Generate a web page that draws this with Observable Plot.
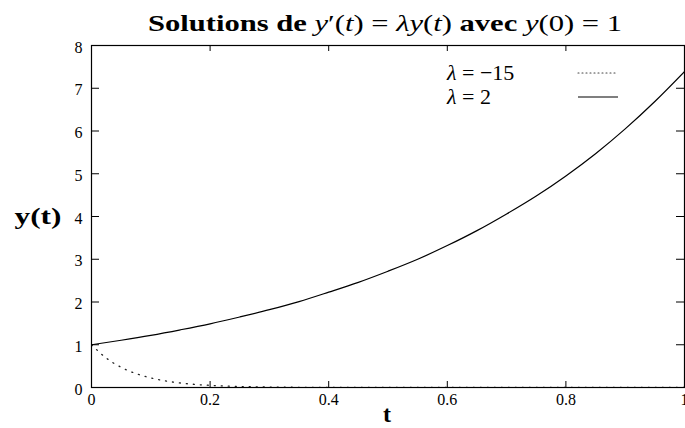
<!DOCTYPE html>
<html><head><meta charset="utf-8">
<script src="https://cdn.jsdelivr.net/npm/d3@7"></script>
<script src="https://cdn.jsdelivr.net/npm/@observablehq/plot@0.6"></script>
<style>body{margin:0;background:#fff}</style></head>
<body><div id="chart"></div>
<script>
// values
const tGrow = [0,0.05,0.1,0.15,0.2,0.25,0.3,0.35,0.4,0.45,0.5,0.55,0.6,0.65,0.7,0.75,0.8,0.85,0.9,0.95,1];
const yGrow = [1,1.105,1.22,1.35,1.49,1.65,1.82,2.01,2.23,2.46,2.72,3.0,3.32,3.67,4.06,4.48,4.95,5.47,6.05,6.69,7.39];
const tDecay = [0,0.025,0.05,0.075,0.1,0.125,0.15,0.175,0.2,0.25,0.3,0.4,0.5,0.6,0.7,0.8,0.9,1];
const yDecay = [1,0.687,0.472,0.325,0.223,0.153,0.105,0.072,0.05,0.024,0.011,0.0025,0.0006,0,0,0,0,0];
const xTicks = [0,0.2,0.4,0.6,0.8,1];
const xTickLabels = ["0","0.2","0.4","0.6","0.8","1"];
const yTicks = [0,1,2,3,4,5,6,7,8];
const yTickLabels = ["0","1","2","3","4","5","6","7","8"];
const legendLabels = ["−15","2"];

const grow = tGrow.map((t,i)=>({t, y:yGrow[i]}));
const decay = tDecay.map((t,i)=>({t, y:yDecay[i]}));

const W = 685, H = 428, mL = 91, mR = 1, mT = 45, mB = 41;
const fw = W - mL - mR, fh = H - mT - mB;
const serif = "'Liberation Serif', 'DejaVu Serif', serif";
const plot = Plot.plot({
  width:W, height:H,
  marginLeft:mL, marginRight:mR, marginTop:mT, marginBottom:mB,
  style:{fontFamily:serif, fontSize:"16px", background:"#fff", color:"#000"},
  x:{domain:[0,1]},
  y:{domain:[0,8]},
  marks:[
    Plot.line(decay,{x:"t", y:"y", stroke:"#222", strokeWidth:1.3, strokeDasharray:"1,6", strokeLinecap:"round", curve:"monotone-x", clip:true}),
    Plot.line(grow,{x:"t", y:"y", stroke:"#000", strokeWidth:1.2, curve:"monotone-x", clip:true}),
    // inward ticks on all four sides
    Plot.tickX(xTicks,{x:d=>d, insetTop:fh-6, stroke:"#000"}),
    Plot.tickX(xTicks,{x:d=>d, insetBottom:fh-6, stroke:"#000"}),
    Plot.tickY(yTicks,{y:d=>d, insetRight:fw-8, stroke:"#000"}),
    Plot.tickY(yTicks,{y:d=>d, insetLeft:fw-8, stroke:"#000"}),
    Plot.frame({stroke:"#000", strokeWidth:1.2}),
    Plot.axisX(xTicks,{anchor:"bottom", tickSize:0, tickPadding:6, tickFormat:(d,i)=>xTickLabels[i], label:null}),
    Plot.axisY(yTicks,{anchor:"left", tickSize:0, tickPadding:9, dy:2, tickFormat:(d,i)=>yTickLabels[i], label:null})
  ]
});
document.getElementById("chart").appendChild(plot);

const svg = d3.select(plot);
// title
const title = svg.append("text").attr("x",385).attr("y",31).attr("text-anchor","middle")
  .attr("textLength",474).attr("lengthAdjust","spacingAndGlyphs")
  .style("font-family",serif).style("font-size","24px");
title.append("tspan").attr("font-weight","bold").text("Solutions de ");
title.append("tspan").attr("font-style","italic").text("y");
title.append("tspan").text("′(");
title.append("tspan").attr("font-style","italic").text("t");
title.append("tspan").text(") = ");
title.append("tspan").attr("font-style","italic").text("λy");
title.append("tspan").text("(");
title.append("tspan").attr("font-style","italic").text("t");
title.append("tspan").text(") ");
title.append("tspan").attr("font-weight","bold").text("avec ");
title.append("tspan").attr("font-style","italic").text("y");
title.append("tspan").text("(0) = 1");

// axis labels
svg.append("text").attr("x",38).attr("y",224).attr("text-anchor","middle")
  .attr("textLength",47).attr("lengthAdjust","spacingAndGlyphs")
  .style("font-family",serif).style("font-size","24px").attr("font-weight","bold").text("y(t)");
svg.append("text").attr("x",387).attr("y",422).attr("text-anchor","middle")
  .style("font-family",serif).style("font-size","24px").attr("font-weight","bold").text("t");

// legend
const legY = [73, 97];
const dashes = ["1,3", null];
legendLabels.forEach((lab,i)=>{
  const tx = svg.append("text").attr("x",447).attr("y",legY[i]+7).attr("text-anchor","start")
    .style("font-family",serif).style("font-size","22px");
  tx.append("tspan").attr("font-style","italic").text("λ");
  tx.append("tspan").text(" = " + lab);
  const ln = svg.append("line").attr("x1",578).attr("x2",618).attr("y1",legY[i]).attr("y2",legY[i])
    .attr("stroke","#000").attr("stroke-width", i===0?1.1:1.2);
  if (dashes[i]) ln.attr("stroke-dasharray",dashes[i]).attr("stroke-linecap","round").attr("stroke","#444");
});
</script></body></html>
